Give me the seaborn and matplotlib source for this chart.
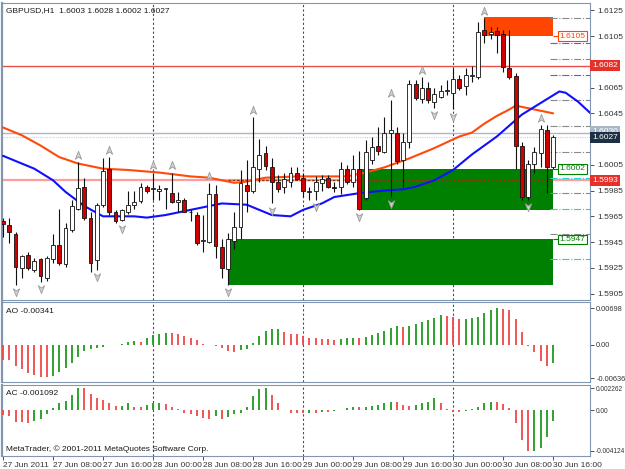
import numpy as np
import pandas as pd
import seaborn as sns
import matplotlib.pyplot as plt
import matplotlib.transforms as mtransforms
from matplotlib.path import Path
from matplotlib.patches import Rectangle

# --- candle data (GBPUSD H1, 27 Jun 00:00 .. 30 Jun 16:00) ---
opens = [1.5961, 1.5958, 1.5951, 1.5925, 1.5935, 1.5923, 1.5932, 1.5917, 1.5932, 1.5943,
         1.5928, 1.5954, 1.5971, 1.5988, 1.5964, 1.5931, 1.5974, 1.6002, 1.5968, 1.5962,
         1.5968, 1.5974, 1.5977, 1.5988, 1.5986, 1.5985, 1.5986, 1.5983, 1.5976, 1.5978,
         1.5968, 1.5966, 1.5946, 1.5945, 1.5982, 1.5941, 1.5924, 1.5946, 1.5957, 1.5989,
         1.5985, 1.6002, 1.6014, 1.6003, 1.5992, 1.5988, 1.5992, 1.5999, 1.5995, 1.5984,
         1.5985, 1.5991, 1.5995, 1.5988, 1.5988, 1.6002, 1.5992, 1.6002, 1.5979, 1.6009,
         1.6020, 1.6015, 1.6030, 1.6030, 1.6009, 1.6023, 1.6068, 1.6056, 1.6065, 1.6054,
         1.6058, 1.6062, 1.6061, 1.6072, 1.6066, 1.6074, 1.6073, 1.6110, 1.6107, 1.6109,
         1.6107, 1.6080, 1.6074, 1.6020, 1.5980, 1.6006, 1.6014, 1.6032, 1.6003]
highs = [1.5964, 1.5964, 1.5953, 1.5935, 1.5937, 1.5933, 1.5933, 1.5934, 1.5951, 1.5971,
         1.5960, 1.5978, 1.6007, 1.5995, 1.5968, 1.5975, 1.6010, 1.6011, 1.5970, 1.5971,
         1.5985, 1.5985, 1.5991, 1.5989, 1.5999, 1.5989, 1.5987, 1.5999, 1.5984, 1.5979,
         1.5971, 1.5968, 1.5966, 1.5991, 1.5989, 1.5947, 1.5952, 1.5968, 1.6001, 1.6009,
         1.6042, 1.6025, 1.6020, 1.6010, 1.5997, 1.5999, 1.6003, 1.6003, 1.5999, 1.5988,
         1.5996, 1.5997, 1.5997, 1.5992, 1.6007, 1.6005, 1.6013, 1.6016, 1.6024, 1.6027,
         1.6034, 1.6042, 1.6055, 1.6034, 1.6030, 1.6071, 1.6071, 1.6073, 1.6069, 1.6065,
         1.6067, 1.6071, 1.6080, 1.6075, 1.6080, 1.6082, 1.6116, 1.6119, 1.6112, 1.6112,
         1.6110, 1.6110, 1.6076, 1.6023, 1.6009, 1.6019, 1.6036, 1.6036, 1.6028]
lows = [1.5949, 1.5944, 1.5912, 1.5917, 1.5923, 1.5922, 1.5914, 1.5915, 1.5929, 1.5927,
        1.5926, 1.5953, 1.5970, 1.5962, 1.5922, 1.5923, 1.5972, 1.5966, 1.5960, 1.5961,
        1.5967, 1.5971, 1.5975, 1.5983, 1.5978, 1.5978, 1.5971, 1.5975, 1.5968, 1.5968,
        1.5961, 1.5943, 1.5937, 1.5944, 1.5933, 1.5917, 1.5912, 1.5940, 1.5947, 1.5968,
        1.5983, 1.5992, 1.6001, 1.5975, 1.5984, 1.5983, 1.5988, 1.5993, 1.5980, 1.5978,
        1.5978, 1.5985, 1.5987, 1.5984, 1.5982, 1.5990, 1.5988, 1.5970, 1.5978, 1.6006,
        1.6013, 1.6014, 1.5980, 1.6006, 1.5988, 1.6018, 1.6055, 1.6053, 1.6053, 1.6049,
        1.6057, 1.6059, 1.6048, 1.6063, 1.6059, 1.6069, 1.6072, 1.6100, 1.6103, 1.6092,
        1.6077, 1.6072, 1.6002, 1.5978, 1.5978, 1.5999, 1.6003, 1.5983, 1.6002]
closes = [1.5959, 1.5953, 1.5926, 1.5934, 1.5925, 1.5930, 1.5919, 1.5933, 1.5943, 1.5929,
          1.5956, 1.5973, 1.5987, 1.5964, 1.5929, 1.5974, 1.6000, 1.5968, 1.5961, 1.5970,
          1.5974, 1.5976, 1.5988, 1.5985, 1.5987, 1.5986, 1.5987, 1.5976, 1.5978, 1.5968,
          1.5968, 1.5944, 1.5946, 1.5982, 1.5942, 1.5925, 1.5947, 1.5957, 1.5991, 1.5985,
          1.6003, 1.6013, 1.6004, 1.5992, 1.5986, 1.5994, 1.5999, 1.5994, 1.5985, 1.5985,
          1.5992, 1.5994, 1.5988, 1.5987, 1.6002, 1.5992, 1.6002, 1.5971, 1.6015, 1.6019,
          1.6016, 1.6030, 1.6032, 1.6008, 1.6023, 1.6068, 1.6057, 1.6065, 1.6055, 1.6060,
          1.6062, 1.6063, 1.6072, 1.6065, 1.6075, 1.6075, 1.6108, 1.6106, 1.6108, 1.6106,
          1.6081, 1.6073, 1.6020, 1.5980, 1.6006, 1.6015, 1.6033, 1.6003, 1.6027]

# moving averages (bar index, price)
ma_slow_idx = [0, 3, 6, 9, 12, 16, 20, 25, 30, 33, 37, 39, 42, 47, 55, 58, 61, 65, 69, 73,
               75, 77, 79, 81, 82, 84, 88]
ma_slow = [1.6034, 1.6028, 1.6020, 1.6011, 1.6006, 1.6002, 1.6001, 1.5999, 1.5996, 1.5995,
           1.5991, 1.5992, 1.5995, 1.5996, 1.5996, 1.5999, 1.6003, 1.6010, 1.6018, 1.6027,
           1.6030, 1.6037, 1.6043, 1.6048, 1.6051, 1.6049, 1.6045]
ma_fast_idx = [0, 5, 8, 10, 13, 16, 21, 23, 26, 31, 35, 39, 43, 46, 48, 51, 53, 57, 61, 64,
               66, 69, 72, 75, 79, 83, 86, 89, 90, 92, 94]
ma_fast = [1.6012, 1.6002, 1.5993, 1.5984, 1.5973, 1.5965, 1.5965, 1.5964, 1.5966, 1.5971,
           1.5975, 1.5974, 1.5966, 1.5965, 1.5970, 1.5975, 1.5980, 1.5983, 1.5985, 1.5986,
           1.5988, 1.5993, 1.6001, 1.6013, 1.6027, 1.6044, 1.6053, 1.6062, 1.6061, 1.6054,
           1.6045]

fractal_up = [12, 17, 24, 27, 33, 40, 62, 67, 77, 86]
fractal_down = [2, 6, 15, 19, 36, 43, 50, 57, 62, 69, 72, 84]

# supply / demand zones
zone_start = [77, 57, 36]
zone_end = [88, 88, 88]
zone_low = [1.6105, 1.5970, 1.5912]
zone_high = [1.6120, 1.6002, 1.5947]
zone_label = ["1.6105", "1.6002", "1.5947"]
zone_label_price = [1.6105, 1.6002, 1.5947]
zone_colors = ["#ff4500", "#008000", "#008000"]

levels_gray = [1.6119, 1.6087, 1.6055, 1.6035, 1.6015, 1.5983, 1.5951]
levels_purple = [1.6100, 1.6075]
levels_cyan = [1.5995, 1.5971, 1.5932]

ao = [-0.00286, -0.00286, -0.00394, -0.00457, -0.00527, -0.00572, -0.00603, -0.00616, -0.00584, -0.00508,
      -0.00432, -0.00349, -0.00222, -0.00114, -0.00076, -0.00064, -0.00032, -0.00005, -0.00002, 0.00013,
      0.00064, 0.00076, 0.00064, 0.00127, 0.00191, 0.00203, 0.00222, 0.00222, 0.00210, 0.00165,
      0.00140, 0.00095, 0.00013, -0.00003, -0.00013, -0.00064, -0.00114, -0.00127, -0.00095, -0.00076,
      0.00032, 0.00178, 0.00267, 0.00298, 0.00305, 0.00241, 0.00203, 0.00203, 0.00178, 0.00140,
      0.00127, 0.00114, 0.00108, 0.00095, 0.00108, 0.00127, 0.00140, 0.00140, 0.00159, 0.00191,
      0.00235, 0.00267, 0.00318, 0.00362, 0.00349, 0.00362, 0.00394, 0.00445, 0.00476, 0.00521,
      0.00572, 0.00552, 0.00540, 0.00489, 0.00495, 0.00508, 0.00527, 0.00603, 0.00667, 0.00698,
      0.00686, 0.00667, 0.00495, 0.00254, -0.00010, -0.00140, -0.00305, -0.00394, -0.00341]
ac = [-0.00048, -0.00058, -0.00116, -0.00123, -0.00127, -0.00106, -0.00092, -0.00038, 0.00021, 0.00079,
      0.00096, 0.00157, 0.00226, 0.00226, 0.00168, 0.00123, 0.00106, 0.00079, 0.00044, 0.00048,
      0.00072, 0.00038, 0.00031, 0.00055, 0.00072, 0.00079, 0.00062, 0.00038, 0.00010, -0.00024,
      -0.00041, -0.00058, -0.00082, -0.00092, -0.00058, -0.00089, -0.00065, -0.00038, -0.00024, 0.00038,
      0.00147, 0.00215, 0.00226, 0.00157, 0.00072, 0.00003, -0.00031, -0.00031, -0.00031, -0.00024,
      -0.00024, -0.00014, -0.00014, -0.00007, 0.00003, 0.00021, 0.00031, 0.00031, 0.00038, 0.00044,
      0.00055, 0.00079, 0.00089, 0.00089, 0.00055, 0.00044, 0.00055, 0.00079, 0.00089, 0.00123,
      0.00079, 0.00010, -0.00014, -0.00014, -0.00003, 0.00010, 0.00038, 0.00079, 0.00089, 0.00089,
      0.00065, 0.00021, -0.00133, -0.00304, -0.00414, -0.00412, -0.00390, -0.00270, -0.001092]

date_labels = ["27 Jun 2011", "27 Jun 08:00", "27 Jun 16:00", "28 Jun 00:00", "28 Jun 08:00",
               "28 Jun 16:00", "29 Jun 00:00", "29 Jun 08:00", "29 Jun 16:00", "30 Jun 00:00",
               "30 Jun 08:00", "30 Jun 16:00"]
day_breaks = [24, 48, 72]


sns.set_theme(style="white")
plt.rcParams["font.family"] = ["Liberation Sans", "DejaVu Sans"]
plt.rcParams["font.size"] = 6

df = pd.DataFrame({"open": opens, "high": highs, "low": lows, "close": closes})
df["idx"] = np.arange(len(df))
df["up"] = df["close"] >= df["open"]

fig = plt.figure(figsize=(6.25, 4.69), dpi=100)
W, H = 625, 469


def panel(top, bottom):
    return fig.add_axes([2 / W, 1 - bottom / H, 588 / W, (bottom - top) / H])


ax = panel(3, 300)
ax_ao = panel(302, 382)
ax_ac = panel(385, 456)

xlim = (-0.16, 93.9)
edge = "#8196b0"
for a in (ax, ax_ao, ax_ac):
    a.set_xlim(*xlim)
    a.set_facecolor("white")
    for s in a.spines.values():
        s.set_color(edge)
        s.set_linewidth(0.8)
    a.spines["left"].set_linewidth(1.6)
    a.yaxis.tick_right()
    a.tick_params(axis="y", direction="out", length=3, width=0.6, colors="#333333",
                  labelsize=6, pad=2, right=True)
    a.tick_params(axis="x", length=0, labelbottom=False)
    for d in day_breaks:
        a.axvline(d, color="#33507a", lw=0.8, ls=(0, (2, 2)), zorder=1)

# indicator scales are a bit narrower so the long numbers fit
ax_ao.tick_params(axis="y", labelsize=5.3, pad=1.5)
ax_ac.tick_params(axis="y", labelsize=4.7, pad=1.2)

# --- main price panel ---
ax.set_ylim(1.59000, 1.61307)
price_ticks = np.round(np.arange(1.5905, 1.6126, 0.002), 4)
ax.set_yticks(price_ticks)
# labels hidden behind the price tags are left blank
hidden = {1.6085, 1.6025}
ax.set_yticklabels(["" if t in hidden else f"{t:.4f}" for t in price_ticks])

ax.axhline(1.6082, color="#e8524a", lw=1, zorder=1)
ax.axhline(1.6030, color="#a9b6c6", lw=1, zorder=1)
ax.axhline(1.6027, color="#d0d0d0", lw=0.8, ls=(0, (1, 1)), zorder=1)
ax.axhline(1.5993, color="#ff9c9c", lw=1.6, zorder=1)

for s, e, lo, hi, c in zip(zone_start, zone_end, zone_low, zone_high, zone_colors):
    ax.add_patch(Rectangle((s, lo), e - s, hi - lo, facecolor=c, edgecolor="none", zorder=2))
ax.hlines(1.5993, zone_start[2], zone_end[1], color="#8a3a10", lw=1, ls=(0, (2, 1)), zorder=2.5)

for lv in levels_gray:
    ax.hlines(lv, 87.5, xlim[1], color="#8a8a8a", lw=0.8, ls="-.", zorder=2)
for lv in levels_purple:
    ax.hlines(lv, 87.5, xlim[1], color="#9b3fd6", lw=0.8, ls="-.", zorder=2)
for lv in levels_cyan:
    ax.hlines(lv, 87.5, xlim[1], color="#22d3d3", lw=0.8, ls="-.", zorder=2)

for txt, p, c, s in zip(zone_label, zone_label_price, zone_colors, zone_end):
    ax.hlines(p, s, s + 1.0, color=c, lw=0.8, zorder=3)
    ax.text(s + 1.0, p, txt, color=c, fontsize=6, ha="left", va="center", zorder=6,
            bbox=dict(facecolor="white", edgecolor=c, lw=0.8, pad=1.0))

# moving averages
sns.lineplot(x=ma_slow_idx, y=ma_slow, ax=ax, color="#ff4a0a", linewidth=1.5, zorder=3)
sns.lineplot(x=ma_fast_idx, y=ma_fast, ax=ax, color="#1010ff", linewidth=1.5, zorder=3)

# candles
ax.vlines(df["idx"], df["low"], df["high"], color="#111111", lw=0.8, zorder=4)
body = (df["close"] - df["open"]).abs().clip(lower=0.00004)
bottom = df[["open", "close"]].min(axis=1)
ax.bar(df["idx"], body, bottom=bottom, width=0.62,
       color=np.where(df["up"], "white", "#d10000"), edgecolor="#111111",
       linewidth=0.6, zorder=5)

# fractal arrows
arrow_up = Path([(0, 1), (0.75, -0.9), (0, -0.35), (-0.75, -0.9), (0, 1)],
                [Path.MOVETO, Path.LINETO, Path.LINETO, Path.LINETO, Path.CLOSEPOLY])
arrow_dn = Path([(0, -1), (0.75, 0.9), (0, 0.35), (-0.75, 0.9), (0, -1)],
                [Path.MOVETO, Path.LINETO, Path.LINETO, Path.LINETO, Path.CLOSEPOLY])
ax.plot(fractal_up, df.loc[fractal_up, "high"] + 0.00055, ls="none", marker=arrow_up,
        ms=6, mfc="#d2d2d2", mec="#9a9a9a", mew=0.6, zorder=6)
ax.plot(fractal_down, df.loc[fractal_down, "low"] - 0.00055, ls="none", marker=arrow_dn,
        ms=6, mfc="#d2d2d2", mec="#9a9a9a", mew=0.6, zorder=6)

ax.text(0.007, 0.985, "GBPUSD,H1  1.6003 1.6028 1.6002 1.6027", transform=ax.transAxes,
        ha="left", va="top", fontsize=6, color="#1a1a1a")

# right-hand price tags
tr = mtransforms.blended_transform_factory(ax.transAxes, ax.transData)
tags = [(1.6082, "1.6082", "#e8302a"), (1.6031, "1.6030", "#a9b6c6"),
        (1.6026, "1.6027", "#1d2f44"), (1.5993, "1.5993", "#e8302a")]
for p, t, fc in tags:
    ax.text(1.004, p, t, transform=tr, ha="left", va="center", fontsize=6, color="white",
            clip_on=False, zorder=10,
            bbox=dict(facecolor=fc, edgecolor="none", boxstyle="square,pad=0.25"))

# --- AO panel ---
ao_colors = ["#1f9a1f" if i > 0 and ao[i] > ao[i - 1] else "#f04848" for i in range(len(ao))]
ax_ao.vlines(np.arange(len(ao)), 0, ao, colors=ao_colors, lw=1.3, zorder=3)
ax_ao.set_ylim(-0.00704, 0.00818)
ax_ao.set_yticks([-0.00636, 0.0, 0.00698])
ax_ao.set_yticklabels(["-0.00636", "0.00", "0.00698"])
ax_ao.text(0.007, 0.93, "AO -0.00341", transform=ax_ao.transAxes, ha="left", va="top",
           fontsize=6, color="#1a1a1a")

# --- AC panel ---
ac_colors = ["#1f9a1f" if i > 0 and ac[i] > ac[i - 1] else "#f04848" for i in range(len(ac))]
ax_ac.vlines(np.arange(len(ac)), 0, ac, colors=ac_colors, lw=1.3, zorder=3)
ax_ac.set_ylim(-0.00468, 0.00261)
ax_ac.set_yticks([-0.004124, 0.0, 0.002262])
ax_ac.set_yticklabels(["-0.004124", "0.00", "0.002262"])
ax_ac.text(0.007, 0.93, "AC -0.001092", transform=ax_ac.transAxes, ha="left", va="top",
           fontsize=6, color="#1a1a1a")
ax_ac.text(0.007, 0.04, "MetaTrader, \u00a9 2001-2011 MetaQuotes Software Corp.",
           transform=ax_ac.transAxes, ha="left", va="bottom", fontsize=6, color="#1a1a1a")

ax_ac.set_xticks(np.arange(0, 89, 8))
ax_ac.set_xticklabels(date_labels, ha="left")
ax_ac.tick_params(axis="x", length=3, width=0.6, direction="out", labelbottom=True,
                  labelsize=6, pad=1, colors="#333333", bottom=True)

fig.savefig("out.png", dpi=100, facecolor="white")
